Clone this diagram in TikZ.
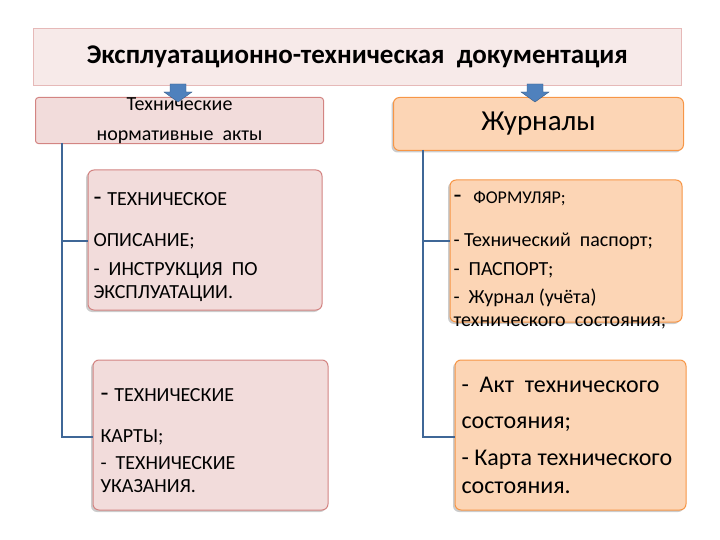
\documentclass[tikz,border=0pt]{standalone}
\usepackage{fontspec}
\setmainfont{Carlito}
\usetikzlibrary{shadows,arrows.meta}
\definecolor{pinkf}{HTML}{F2DCDB}
\definecolor{pinkd}{HTML}{C0504D}
\definecolor{peach}{HTML}{FCD5B5}
\definecolor{orng}{HTML}{F79646}
\definecolor{blu}{HTML}{4F81BD}
\begin{document}
\begin{tikzpicture}[x=1pt,y=-1pt,
 pbox/.style={draw=pinkd!70,fill=pinkf,line width=1pt,rounded corners=6pt,drop shadow={shadow xshift=-2pt,shadow yshift=-2pt,opacity=0.4}},
 obox/.style={draw=orng,fill=peach,line width=1pt,rounded corners=6pt,drop shadow={shadow xshift=-2pt,shadow yshift=-2pt,opacity=0.4}},
 conn/.style={draw=blu!80!black,line width=1.3pt},
 barrow/.style={fill=blu,draw=blu!70!black},
 txt/.style={anchor=west,font=\fontsize{20}{23}\selectfont,align=left}]
\useasboundingbox (0,0) rectangle (720,540);
\node[draw=pinkd!40,fill=pinkf!60,line width=0.8pt,minimum width=648pt,minimum height=57pt,anchor=north west,
 font=\bfseries\fontsize{27}{30}\selectfont] (t) at (33,28) {Эксплуатационно-техническая\ \ документация};
\node[fill=pinkf,draw=pinkd!70,line width=1pt,rounded corners=3pt,minimum width=288pt,minimum height=46pt,anchor=north west,align=center,
 font=\fontsize{20}{30}\selectfont,inner sep=0pt] (l0) at (35,97) {Технические\\нормативные\ \ акты};
\node[obox,minimum width=290pt,minimum height=53pt,anchor=north west,font=\fontsize{29}{32}\selectfont] (r0) at (393,97) {Журналы};
\draw[barrow] (170,84) -- (186,84) -- (186,92) -- (192,92) -- (178,102) -- (164,92) -- (170,92) -- cycle;
\draw[barrow] (527,84) -- (543,84) -- (543,92) -- (549,92) -- (535,102) -- (521,92) -- (527,92) -- cycle;
\path[pbox] (88,170) rectangle (322,310); \coordinate (l1) at (88,241);
\path[pbox] (93,360) rectangle (328,510); \coordinate (l2) at (93,437);
\path[obox] (450,180) rectangle (682,322); \coordinate (r1) at (450,241);
\path[obox] (455,360) rectangle (686,510); \coordinate (r2) at (455,437);
\coordinate (lv) at (62,143); \coordinate (rv) at (423,150);
\draw[conn] (lv) |- (l2); \draw[conn] (l1) -- (62,241);
\draw[conn] (rv) |- (r2); \draw[conn] (r1) -- (423,241);
\node[txt] (t1) at (90,199) {\fontsize{26}{26}\selectfont-\ \fontsize{20}{23}\selectfont ТЕХНИЧЕСКОЕ};
\node[txt] (t2) at (90,241) {ОПИСАНИЕ;};
\node[txt] (t3) at (90,282) {-\ \ ИНСТРУКЦИЯ\ \ ПО\\ЭКСПЛУАТАЦИИ.};
\node[txt] (t4) at (97,395) {\fontsize{26}{26}\selectfont-\ \fontsize{20}{23}\selectfont ТЕХНИЧЕСКИЕ};
\node[txt] (t5) at (97,437) {КАРТЫ;};
\node[txt] (t6) at (97,475) {-\ \ ТЕХНИЧЕСКИЕ\\УКАЗАНИЯ.};
\node[txt] (u1) at (450,199) {\fontsize{26}{26}\selectfont-\ \ \fontsize{18}{23}\selectfont ФОРМУЛЯР;};
\node[txt] (u2) at (450,241) {-\ Технический\ \ паспорт;};
\node[txt] (u3) at (450,270) {-\ \ ПАСПОРТ;};
\node[txt] (u4) at (450,309) {-\ \ Журнал (учёта)\\технического\ \ состояния;};
\node[txt,font=\fontsize{24}{28}\selectfont] (v1) at (458,385) {-\ \ Акт\ \ технического};
\node[txt,font=\fontsize{24}{28}\selectfont] (v2) at (458,424) {состояния;};
\node[txt,font=\fontsize{24}{28}\selectfont] (v3) at (458,472) {-\ Карта технического\\состояния.};
\end{tikzpicture}
\end{document}
